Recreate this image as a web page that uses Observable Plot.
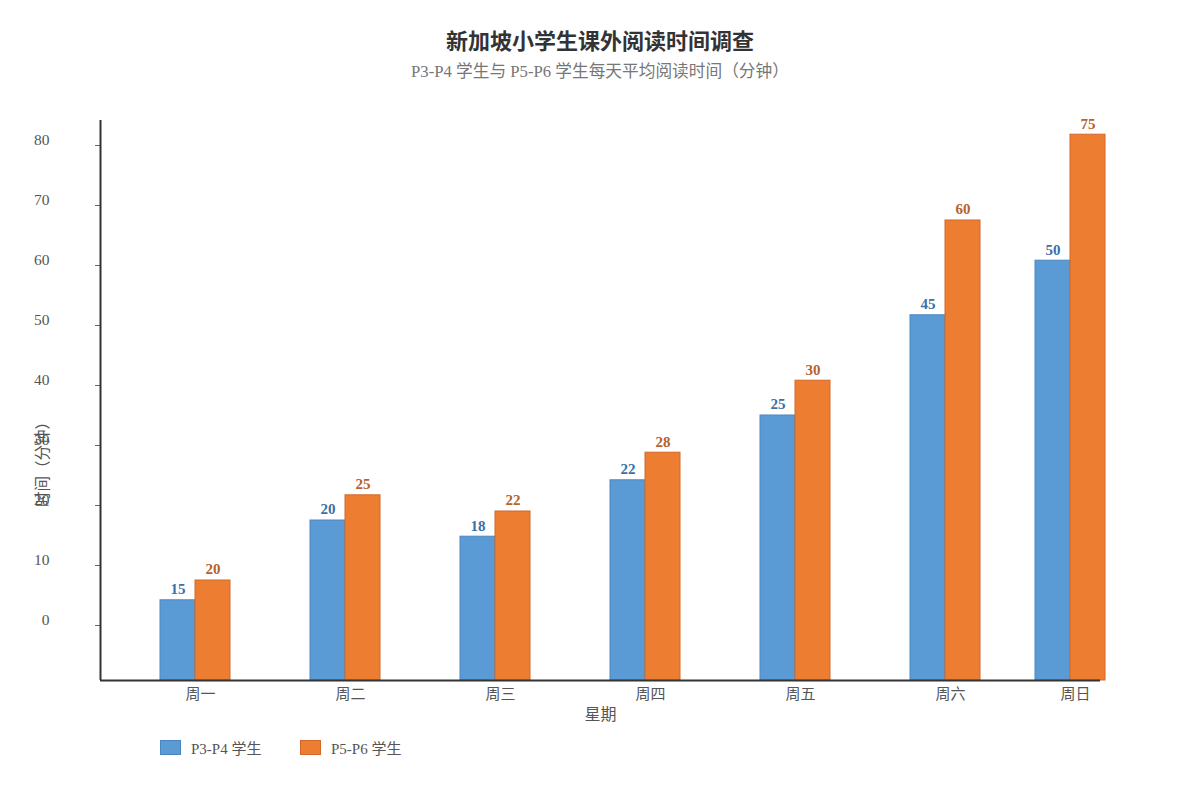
<!DOCTYPE html>
<html>
<head>
<meta charset="utf-8">
<script src="https://cdn.jsdelivr.net/npm/d3@7"></script>
<script src="https://cdn.jsdelivr.net/npm/@observablehq/plot@0.6"></script>
<style>
  html, body { margin: 0; padding: 0; background: #fff; }
  body { width: 1200px; height: 800px; position: relative; overflow: hidden;
         font-family: "Liberation Serif", "Noto Sans CJK SC", serif; }
  #title { position: absolute; left: 0; width: 1200px; top: 27px; text-align: center;
           font-size: 22px; font-weight: bold; color: #333; line-height: 30px; }
  #subtitle { position: absolute; left: 0; width: 1200px; top: 61px; text-align: center;
              font-size: 16.7px; color: #777; line-height: 22px; }
  #chart { position: absolute; left: 0; top: 100px; }
  #legend { position: absolute; left: 160px; top: 737px; display: flex; gap: 0; font-size: 15px; color: #555; }
  .item { display: flex; align-items: center; width: 140px; }
  .sw { width: 19px; height: 13px; margin-right: 10px; border: 1px solid; }
</style>
</head>
<body>
<div id="title">新加坡小学生课外阅读时间调查</div>
<div id="subtitle">P3-P4 学生与 P5-P6 学生每天平均阅读时间（分钟）</div>
<div id="chart"></div>
<div id="legend"></div>
<script>
// ---- data ----
const days = ["周一", "周二", "周三", "周四", "周五", "周六", "周日"];
const seriesNames = ["P3-P4 学生", "P5-P6 学生"];
const p34Labels = [15, 20, 18, 22, 25, 45, 50];
const p56Labels = [20, 25, 22, 28, 30, 60, 75];
// bar tops as read against the drawn y axis
const p34Bars = [4.2, 17.5, 14.8, 24.2, 35.0, 51.7, 60.8];
const p56Bars = [7.5, 21.7, 19.0, 28.8, 40.8, 67.5, 81.8];
const yTicks = [0, 10, 20, 30, 40, 50, 60, 70, 80];

const fills = ["#5b9bd5", "#ed7d31"];
const strokes = ["#4a87c2", "#d2692a"];
const labelColors = ["#3b70a8", "#b9612a"];

// ---- layout helpers ----
const yMin = -55 / 6, yMax = 505 / 6;
const xMin = -2 / 3, xMax = 6;
const lastSlot = xMax - 1 / 6;               // last group clamped inside the frame
const slot = i => Math.min(i, lastSlot);
const half = 35 / 150;                        // bar width in slot units
const shift = -5 / 150;
const tickLen = 5 / 150;

const rows = [];
days.forEach((d, i) => {
  rows.push({day: d, i, s: 0, bar: p34Bars[i], label: p34Labels[i]});
  rows.push({day: d, i, s: 1, bar: p56Bars[i], label: p56Labels[i]});
});
const x1 = r => slot(r.i) + shift + (r.s === 0 ? -half : 0);
const x2 = r => slot(r.i) + shift + (r.s === 0 ? 0 : half);
const xc = r => (x1(r) + x2(r)) / 2;

const font = '"Liberation Serif", "Noto Sans CJK SC", serif';

const plot = Plot.plot({
  width: 1200,
  height: 640,
  marginTop: 20,
  marginBottom: 60,
  marginLeft: 100,
  marginRight: 100,
  style: {fontFamily: font, fontSize: "15px", color: "#555", background: "#fff", overflow: "visible"},
  x: {type: "linear", domain: [xMin, xMax], axis: null},
  y: {type: "linear", domain: [yMin, yMax], axis: null},
  marks: [
    Plot.rectY(rows, {
      x1, x2, y1: yMin, y2: "bar",
      fill: r => fills[r.s], stroke: r => strokes[r.s], strokeWidth: 1
    }),
    Plot.text(rows, {
      x: xc, y: "bar", text: r => String(r.label), dy: -11,
      fill: r => labelColors[r.s], fontWeight: "bold", fontSize: 15, lineAnchor: "middle"
    }),
    // y axis ticks and labels
    Plot.ruleY(yTicks, {y: d => d, x1: xMin - tickLen, x2: xMin, stroke: "#666", strokeWidth: 1}),
    Plot.text(yTicks, {y: d => d, x: xMin, text: d => String(d), dx: -51, dy: -5,
      textAnchor: "end", fill: "#555", fontSize: 15.5}),
    // x axis labels
    Plot.text(days, {x: (d, i) => slot(i), y: yMin, text: d => d, dy: 14,
      fill: "#555", fontSize: 15, lineAnchor: "middle"}),
    // axis lines
    Plot.ruleY([yMin], {stroke: "#333", strokeWidth: 2}),
    Plot.ruleX([xMin], {stroke: "#333", strokeWidth: 2}),
    // axis titles
    Plot.text(["星期"], {frameAnchor: "bottom", dy: 34, fill: "#555", fontSize: 16, lineAnchor: "middle"}),
    Plot.text(["时间（分钟）"], {frameAnchor: "left", rotate: -90, dx: -57, dy: 60,
      textAnchor: "middle", fill: "#555", fontSize: 15.5, lineAnchor: "middle"})
  ]
});
document.getElementById("chart").appendChild(plot);

// legend
const legend = document.getElementById("legend");
seriesNames.forEach((name, k) => {
  const item = document.createElement("div");
  item.className = "item";
  const sw = document.createElement("div");
  sw.className = "sw";
  sw.style.background = fills[k];
  sw.style.borderColor = strokes[k];
  const t = document.createElement("span");
  t.textContent = name;
  item.appendChild(sw);
  item.appendChild(t);
  legend.appendChild(item);
});
</script>
</body>
</html>
